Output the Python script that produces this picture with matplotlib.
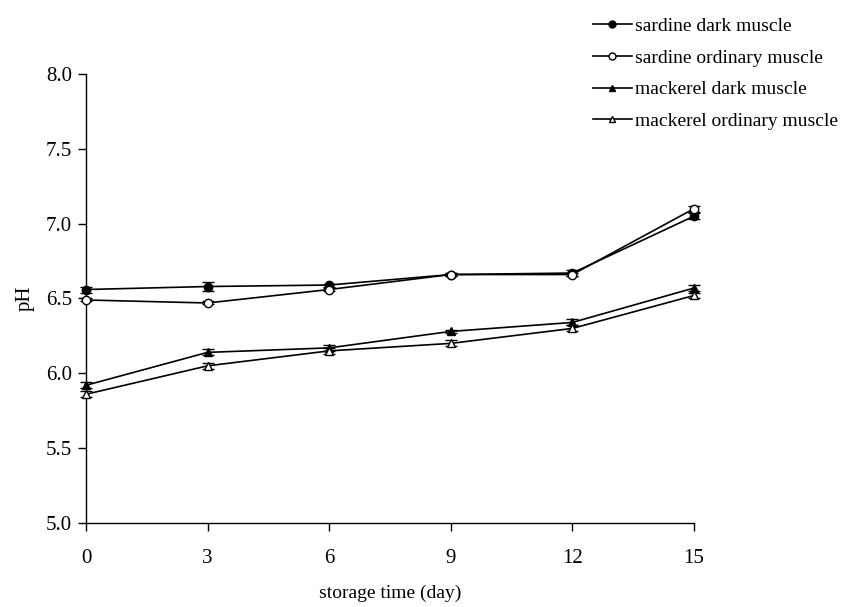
import numpy as np
import matplotlib
matplotlib.use('Agg')
import matplotlib.pyplot as plt

plt.rcParams['font.family'] = ['Liberation Serif', 'DejaVu Serif']

# データ
days = [0, 3, 6, 9, 12, 15]
sardine_dark = [6.56, 6.58, 6.59, 6.66, 6.67, 7.05]
sardine_dark_err = [0.02, 0.03, 0.01, 0.01, 0.02, 0.02]
sardine_ord = [6.49, 6.47, 6.56, 6.66, 6.66, 7.10]
sardine_ord_err = [0.01, 0.01, 0.01, 0.01, 0.01, 0.02]
mackerel_dark = [5.92, 6.14, 6.17, 6.28, 6.34, 6.57]
mackerel_dark_err = [0.02, 0.02, 0.02, 0.01, 0.02, 0.02]
mackerel_ord = [5.86, 6.05, 6.15, 6.20, 6.30, 6.52]
mackerel_ord_err = [0.02, 0.02, 0.02, 0.02, 0.02, 0.02]

series = [
    ('sardine dark muscle', sardine_dark, sardine_dark_err, 'o', 'black'),
    ('sardine ordinary muscle', sardine_ord, sardine_ord_err, 'o', 'white'),
    ('mackerel dark muscle', mackerel_dark, mackerel_dark_err, '^', 'black'),
    ('mackerel ordinary muscle', mackerel_ord, mackerel_ord_err, '^', 'white'),
]

fig = plt.figure(figsize=(8.47, 6.07), dpi=100)
ax = fig.add_axes([0.1015, 0.1384, 0.7178, 0.7397])

handles = []
for label, y, err, m, fc in series:
    eb = ax.errorbar(days, y, yerr=err, fmt='none', ecolor='black',
                     elinewidth=1.0, capsize=4, capthick=1.0, zorder=2)
    for art in eb.lines[1] + eb.lines[2]:
        art.set_clip_on(False)
    ax.plot(days, y, color='black', lw=1.2, marker=m, ms=6,
            mfc=fc, mec='black', mew=1.0, zorder=3, clip_on=False)
    h, = ax.plot([], [], color='black', lw=1.2, marker=m, ms=5,
                 mfc=fc, mec='black', mew=1.0, label=label)
    handles.append(h)

ax.set_xlim(0, 15)
ax.set_ylim(5.0, 8.0)
ax.set_xticks(days)
ax.set_yticks(np.arange(5.0, 8.01, 0.5))
ax.set_yticklabels([f'{v:.1f}' for v in np.arange(5.0, 8.01, 0.5)])
ax.tick_params(direction='out', length=6, width=1, labelsize=15, pad=4)
ax.tick_params(axis='x', pad=13)
for s in ['top', 'right']:
    ax.spines[s].set_visible(False)
for s in ['left', 'bottom']:
    ax.spines[s].set_linewidth(1.0)

ax.set_xlabel('storage time (day)', fontsize=14, labelpad=12)
ax.set_ylabel('pH', fontsize=15, labelpad=8)

fig.legend(handles=handles, loc='upper left', bbox_to_anchor=(0.679, 1.0),
           frameon=False, fontsize=14, handlelength=2.0, handletextpad=0.2,
           labelspacing=0.72)

fig.savefig('out.png', dpi=100)
